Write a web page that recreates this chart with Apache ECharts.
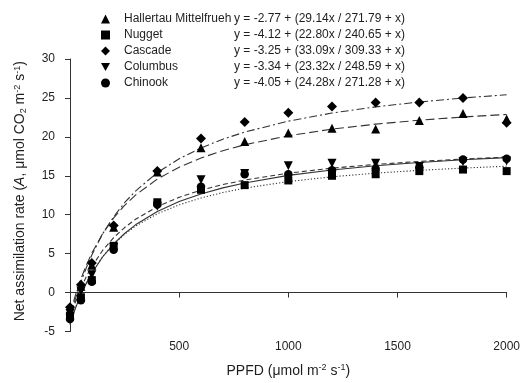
<!DOCTYPE html>
<html>
<head>
<meta charset="utf-8">
<script src="https://cdn.jsdelivr.net/npm/echarts@6/dist/echarts.min.js"></script>
<style>
  html, body { margin: 0; padding: 0; background: #fff; }
  #chart { width: 523px; height: 383px; }
</style>
</head>
<body>
<div id="chart"></div>
<script>
// measured points
const ppfd = [0, 50, 100, 200, 400, 600, 800, 1000, 1200, 1400, 1600, 1800, 2000];
const hallertau = [-2.2, 0.8, 3.5, 8.4, 15.5, 18.6, 19.4, 20.5, 21.1, 21.0, 22.1, 23.0, 22.3];
const nugget = [-3.0, -0.6, 1.6, 6.0, 11.6, 13.2, 13.8, 14.4, 15.0, 15.2, 15.6, 15.8, 15.6];
const cascade = [-1.9, 1.0, 3.8, 8.6, 15.6, 19.8, 21.9, 23.1, 23.9, 24.4, 24.4, 25.0, 21.8];
const columbus = [-2.7, 0.2, 2.3, 5.8, 11.1, 14.5, 15.3, 16.3, 16.6, 16.6, 16.2, 16.8, 16.9];
const chinook = [-3.4, -1.0, 1.4, 5.5, 11.3, 13.6, 15.2, 15.2, 15.7, 15.9, 16.1, 17.1, 17.2];

// fitted curves
const curvePpfd = [0, 25, 50, 75, 100, 150, 200, 250, 300, 400, 500, 600, 700, 800, 1000, 1200, 1400, 1600, 1800, 2000];
const hallertauFit = [-2.77, -0.32, 1.76, 3.53, 5.07, 7.59, 9.58, 11.19, 12.52, 14.58, 16.11, 17.29, 18.22, 18.98, 20.14, 20.99, 21.63, 22.14, 22.55, 22.88];
const nuggetFit = [-4.12, -1.97, -0.20, 1.30, 2.57, 4.63, 6.23, 7.50, 8.53, 10.12, 11.27, 12.15, 12.85, 13.41, 14.26, 14.87, 15.34, 15.70, 15.99, 16.23];
const cascadeFit = [-3.25, -0.78, 1.35, 3.21, 4.83, 7.56, 9.74, 11.54, 13.04, 15.41, 17.19, 18.58, 19.70, 20.61, 22.02, 23.06, 23.85, 24.48, 24.99, 25.41];
const columbusFit = [-3.34, -1.21, 0.57, 2.07, 3.35, 5.44, 7.06, 8.35, 9.41, 11.04, 12.24, 13.15, 13.87, 14.45, 15.34, 15.98, 16.46, 16.84, 17.15, 17.40];
const chinookFit = [-4.05, -2.00, -0.27, 1.21, 2.49, 4.60, 6.25, 7.59, 8.70, 10.42, 11.69, 12.67, 13.45, 14.08, 15.05, 15.75, 16.29, 16.71, 17.05, 17.33];

const varieties = ['Hallertau Mittelfrueh', 'Nugget', 'Cascade', 'Columbus', 'Chinook'];
const equations = [
  'y = -2.77 + (29.14x / 271.79 + x)',
  'y = -4.12 + (22.80x / 240.65 + x)',
  'y = -3.25 + (33.09x / 309.33 + x)',
  'y = -3.34 + (23.32x / 248.59 + x)',
  'y = -4.05 + (24.28x / 271.28 + x)',
];

const FONT = '"Liberation Sans", Arial, sans-serif';
const INK = '#1e1e1e';
const DOWN_TRIANGLE = 'path://M0,0 L10,0 L5,9 Z';

const pair = (xs, ys) => xs.map((x, i) => [x, ys[i]]);

const markers = [
  { data: hallertau, symbol: 'triangle', size: 9, rotate: 0 },
  { data: nugget, symbol: 'rect', size: 8, rotate: 0 },
  { data: cascade, symbol: 'diamond', size: 10, rotate: 0 },
  { data: columbus, symbol: 'triangle', size: 9, rotate: 180 },
  { data: chinook, symbol: 'circle', size: 8.5, rotate: 0 },
];

const fits = [
  { data: hallertauFit, dash: [9, 4] },
  { data: nuggetFit, dash: [1.2, 2] },
  { data: cascadeFit, dash: [8, 3, 2, 3] },
  { data: columbusFit, dash: [5, 3] },
  { data: chinookFit, dash: 'solid' },
];

const series = [];
fits.forEach((f, i) => {
  series.push({
    name: varieties[i] + ' fit',
    type: 'line',
    data: pair(curvePpfd, f.data),
    smooth: false,
    showSymbol: false,
    symbol: 'none',
    silent: true,
    z: 2,
    lineStyle: { color: '#333', width: 1.1, type: f.dash },
  });
});
markers.forEach((m, i) => {
  series.push({
    name: varieties[i],
    type: 'scatter',
    data: pair(ppfd, m.data),
    symbol: m.symbol,
    symbolSize: m.size,
    symbolRotate: m.rotate,
    z: 3,
    itemStyle: { color: '#000', opacity: 1 },
  });
});

const chart = echarts.init(document.getElementById('chart'), null, { renderer: 'canvas' });

chart.setOption({
  animation: false,
  backgroundColor: '#fff',
  textStyle: { fontFamily: FONT },
  grid: { left: 70, right: 14, top: 59, bottom: 8, containLabel: false },
  legend: {
    data: varieties.map((name, i) =>
      markers[i].rotate ? { name: name, icon: DOWN_TRIANGLE } : { name: name }
    ),
    orient: 'vertical',
    left: 96,
    top: 8,
    itemWidth: 9,
    itemHeight: 9,
    itemGap: 4,
    selectedMode: false,
    formatter: (name) => {
      const i = varieties.indexOf(name);
      return '{n|' + name + '}{e|' + equations[i] + '}';
    },
    textStyle: {
      fontFamily: FONT,
      fontSize: 12,
      color: INK,
      rich: {
        n: { fontFamily: FONT, fontSize: 12, color: INK, width: 110, padding: [0, 0, 0, 9] },
        e: { fontFamily: FONT, fontSize: 12, color: INK },
      },
    },
  },
  xAxis: {
    type: 'value',
    min: 0,
    max: 2000,
    interval: 500,
    name: 'PPFD (μmol m{sup|-2} s{sup|-1})',
    nameLocation: 'middle',
    nameGap: 32,
    nameTextStyle: {
      fontFamily: FONT,
      fontSize: 14,
      color: INK,
      rich: { sup: { fontSize: 9, color: INK, verticalAlign: 'top', padding: [0, 0, 6, 0] } },
    },
    axisLine: { show: true, onZero: true, lineStyle: { color: '#333', width: 1 } },
    axisTick: { show: true, length: 5, lineStyle: { color: '#333' } },
    axisLabel: {
      color: INK,
      fontFamily: FONT,
      fontSize: 12,
      margin: 9,
      formatter: (v) => (v === 0 ? '' : String(v)),
    },
    splitLine: { show: false },
  },
  yAxis: {
    type: 'value',
    min: -5,
    max: 30,
    interval: 5,
    name: 'Net assimilation rate ({i|A}, μmol CO{sub|2} m{sup|-2} s{sup|-1})',
    nameLocation: 'middle',
    nameGap: 42,
    nameTextStyle: {
      fontFamily: FONT,
      fontSize: 14,
      color: INK,
      padding: [0, 0, 0, 8],
      rich: {
        i: { fontSize: 14, fontStyle: 'italic', color: INK },
        sup: { fontSize: 9, color: INK, verticalAlign: 'top', padding: [0, 0, 6, 0] },
        sub: { fontSize: 9, color: INK, verticalAlign: 'bottom', padding: [6, 0, 0, 0] },
      },
    },
    axisLine: { show: true, onZero: false, lineStyle: { color: '#333', width: 1 } },
    axisTick: { show: true, length: 5, lineStyle: { color: '#333' } },
    axisLabel: { color: INK, fontFamily: FONT, fontSize: 12, margin: 15 },
    splitLine: { show: false },
  },
  series: series,
});
</script>
</body>
</html>
